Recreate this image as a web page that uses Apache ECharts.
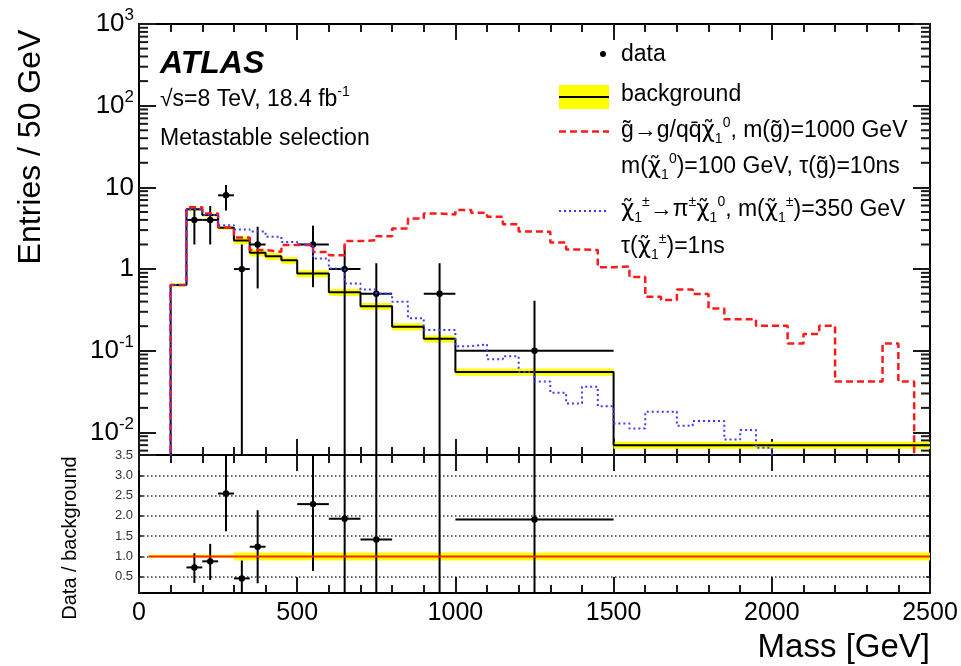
<!DOCTYPE html>
<html><head><meta charset="utf-8">
<script src="https://cdn.jsdelivr.net/npm/echarts@6/dist/echarts.min.js"></script>
<style>html,body{margin:0;padding:0;background:#fff}#c{width:961px;height:666px}</style>
</head><body><div id="c"></div>
<script>
const FONT = '"Liberation Sans", Arial, Helvetica, sans-serif';
const TICK = '#1a1a1a';
const MINOR = '#1a1a1a';

// ---------- data ----------
const bkgEdges  = [100,150,200,250,300,350,400,450,500,600,700,800,900,1000,1500,2500];
const bkgValues = [0.64,5.4,4.6,3.2,2.24,1.58,1.44,1.28,0.88,0.52,0.35,0.197,0.14,0.055,0.0070];
const bkgRelErr = [0.05,0.05,0.05,0.05,0.1,0.1,0.1,0.1,0.1,0.1,0.1,0.1,0.1,0.1,0.1];

const sigBinLow = [100,150,200,250,300,350,400,450,500,550,600,650,700,750,800,850,900,950,
  1000,1050,1100,1150,1200,1250,1300,1350,1400,1450,1500,1550,1600,1650,1700,1750,1800,1850,
  1900,1950,2000,2050,2100,2150,2200,2250,2300,2350,2400,2450];
const sigUpperEdge = 2500;
const gluinoValues = [0.64,5.7,4.8,3.24,2.44,1.71,1.63,1.97,1.97,1.62,1.48,2.2,2.26,2.53,3.15,4.17,4.8,4.67,
  5.27,4.89,4.37,3.55,2.89,2.87,2.12,1.74,1.71,1.05,1.08,0.80,0.458,0.417,0.564,0.494,0.33,0.244,
  0.244,0.202,0.202,0.123,0.16,0.202,0.042,0.042,0.042,0.123,0.042,0];
const charginoValues = [0.64,5.4,4.6,3.45,3.06,2.88,2.49,2.14,2.02,1.35,1.02,0.668,0.564,0.5,0.398,0.25,0.18,0.18,
  0.114,0.12,0.079,0.086,0.055,0.042,0.0306,0.0227,0.0364,0.021,0.0129,0.0112,0.0179,0.018,0.0121,0.0138,0.0138,0.0082,
  0.0107,0.0065,0,0,0,0,0,0,0,0,0,0];

const dataMass      = [175,225,275,325,375,550,650,750,950,1250];
const dataHalfWidth = [25,25,25,25,25,50,50,50,50,250];
const dataEntries   = [4,4,8,1,2,2,1,0.5,0.5,0.1];
const dataErrLow    = [2.0,2.0,5.2,0,0.58,0.6,0,0,0,0];
const dataErrHigh   = [5.9,5.9,10.7,2.0,3.3,3.4,1.95,1.18,1.18,0.41];

const ratioValues  = [0.73,0.88,2.55,0.46,1.24,2.29,1.93,1.42,3.6,1.91];
const ratioErrLow  = [0.35,0.42,1.62,0,0.34,0.64,0,0,0,0];
const ratioErrHigh = [1.08,1.31,3.49,0.9,2.14,3.6,4.5,4.5,4.5,4.5];
const ratioBandEdges = [30,300,2500];
const ratioBandErr   = [0.04,0.1];

const topYTickValues = [0.01,0.1,1,10,100,1000];
const topYTickLabels = ['{b|10}{s|-2}','{b|10}{s|-1}','{b|1}','{b|10}','{b|10}{s|2}','{b|10}{s|3}'];
const ratioTickValues = [0.5,1.0,1.5,2.0,2.5,3.0,3.5];
const ratioTickLabels = ['0.5','1.0','1.5','2.0','2.5','3.0','3.5'];

const Y_MIN = 0.0053, Y_MAX = 1000, FLOOR = 1e-4;

// ---------- builders ----------
function stepData(lows, upper, values) {
  const pts = [[lows[0], FLOOR]];
  for (let i = 0; i < lows.length; i++) pts.push([lows[i], values[i] > 0 ? values[i] : FLOOR]);
  const last = values[values.length - 1];
  pts.push([upper, last > 0 ? last : FLOOR]);
  return pts;
}
const bkgStep = [];
for (let i = 0; i < bkgValues.length; i++) bkgStep.push([bkgEdges[i], bkgValues[i]]);
bkgStep.unshift([bkgEdges[0], FLOOR]);
bkgStep.push([bkgEdges[bkgEdges.length - 1], bkgValues[bkgValues.length - 1]]);

const bkgBand = bkgValues.map((v, i) => [bkgEdges[i], bkgEdges[i + 1], v, bkgRelErr[i]]);
const ratioBand = ratioBandErr.map((e, i) => [ratioBandEdges[i], ratioBandEdges[i + 1], 1, e]);
const dataPts = dataMass.map((m, i) => [m, dataHalfWidth[i], dataEntries[i], dataErrLow[i] > 0 ? dataErrLow[i] : 1e-6, dataErrHigh[i]]);
const ratioPts = dataMass.map((m, i) => [m, dataHalfWidth[i], ratioValues[i], ratioErrLow[i], ratioErrHigh[i]]);

const logMinorTicks = [];
for (let d = -3; d <= 2; d++) for (let k = 2; k <= 9; k++) {
  const v = k * Math.pow(10, d);
  if (v >= Y_MIN && v <= Y_MAX) logMinorTicks.push([0, v]);
}

function bandRender(params, api) {
  const lo = api.value(0), hi = api.value(1), v = api.value(2), e = api.value(3);
  const p1 = api.coord([lo, v * (1 + e)]), p2 = api.coord([hi, v * (1 - e)]);
  return { type: 'rect', shape: { x: p1[0], y: p1[1], width: p2[0] - p1[0], height: p2[1] - p1[1] },
           style: { fill: '#ffff00' } };
}
function errRender(params, api) {
  const cs = params.coordSys;
  const top = cs.y, bot = cs.y + cs.height;
  const clamp = y => Math.min(Math.max(y, top), bot);
  const x = api.value(0), hw = api.value(1), y = api.value(2), lo = api.value(3), hi = api.value(4);
  const c = api.coord([x, y]);
  const pl = api.coord([x - hw, y]), pr = api.coord([x + hw, y]);
  const yHi = clamp(api.coord([x, hi])[1]);
  const yLo = clamp(api.coord([x, lo])[1]);
  const st = { stroke: '#000', lineWidth: 2 };
  const ch = [{ type: 'line', shape: { x1: c[0], y1: yHi, x2: c[0], y2: yLo }, style: st }];
  if (c[1] >= top && c[1] <= bot) {
    ch.push({ type: 'line', shape: { x1: pl[0], y1: c[1], x2: pr[0], y2: c[1] }, style: st });
    ch.push({ type: 'circle', shape: { cx: c[0], cy: c[1], r: 3.2 }, style: { fill: '#000' } });
  }
  return { type: 'group', children: ch };
}
function minorTickRender(params, api) {
  const cs = params.coordSys;
  const y = api.coord([0, api.value(1)])[1];
  const st = { stroke: MINOR, lineWidth: 2 };
  return { type: 'group', children: [
    { type: 'line', shape: { x1: cs.x, y1: y, x2: cs.x + 9, y2: y }, style: st },
    { type: 'line', shape: { x1: cs.x + cs.width - 9, y1: y, x2: cs.x + cs.width, y2: y }, style: st }
  ] };
}

function fmtLog(v) {
  for (let i = 0; i < topYTickValues.length; i++)
    if (Math.abs(v / topYTickValues[i] - 1) < 1e-6) return topYTickLabels[i];
  return '';
}
function fmtRatio(v) {
  for (let i = 0; i < ratioTickValues.length; i++)
    if (Math.abs(v - ratioTickValues[i]) < 1e-6) return ratioTickLabels[i];
  return '';
}

function frame() { return { show: true, onZero: false, lineStyle: { color: '#000', width: 2 } }; }
function mkX(gridIndex, position, showLabel) {
  return { type: 'value', gridIndex, position, min: 0, max: 2500, interval: 500,
    axisLine: frame(),
    axisTick: { show: true, inside: true, length: 16, lineStyle: { color: TICK, width: 2 } },
    minorTick: { show: true, splitNumber: 5, length: 8, lineStyle: { color: MINOR, width: 2 } },
    axisLabel: { show: showLabel, fontSize: 25, color: '#000', margin: 8, fontFamily: FONT,
      formatter: v => String(v) },
    splitLine: { show: false } };
}
function logY(position, showLabel) {
  return { type: 'log', logBase: 10, gridIndex: 0, position, min: Y_MIN, max: Y_MAX,
    axisLine: frame(),
    axisTick: { show: true, inside: true, length: 17, lineStyle: { color: TICK, width: 2 } },
    axisLabel: { show: showLabel, margin: 5, formatter: fmtLog, color: '#000',
      rich: { b: { fontSize: 26, fontFamily: FONT, color: '#000', lineHeight: 34 },
              s: { fontSize: 17, fontFamily: FONT, color: '#000', verticalAlign: 'top' } } },
    splitLine: { show: false } };
}
function ratioY(position, showLabel) {
  return { type: 'value', gridIndex: 1, position, min: 0.1, max: 3.5, splitNumber: 7,
    axisLine: frame(),
    axisTick: { show: true, inside: true, length: 4, lineStyle: { color: TICK, width: 1.5 } },
    axisLabel: { show: showLabel, fontSize: 13, color: '#333', margin: 6, fontFamily: FONT, formatter: fmtRatio },
    splitLine: { show: showLabel, lineStyle: { type: [1.5, 2.5], color: '#333', width: 1.5 } } };
}

const richLeg = {
  n: { fontSize: 23, fontFamily: FONT, fill: '#000', lineHeight: 30 },
  c: { fontSize: 23, fontFamily: '"DejaVu Sans"', fill: '#000', lineHeight: 30 },
  sup: { fontSize: 14, fontFamily: FONT, fill: '#000', verticalAlign: 'top' },
  sub: { fontSize: 14, fontFamily: FONT, fill: '#000', verticalAlign: 'bottom' }
};
function legText(x, y, text) {
  return { type: 'text', x, y, style: { text, rich: richLeg, fill: '#000', font: '23px ' + FONT, verticalAlign: 'middle' } };
}
const CHI = '{c|\u03C7\u0303}';

const option = {
  animation: false,
  backgroundColor: '#fff',
  grid: [
    { left: 139, top: 24, width: 791, height: 431 },
    { left: 139, top: 455, width: 791, height: 138 }
  ],
  xAxis: [ mkX(0, 'bottom', false), mkX(0, 'top', false), mkX(1, 'bottom', true), mkX(1, 'top', false) ],
  yAxis: [ logY('left', true), logY('right', false), ratioY('left', true), ratioY('right', false) ],
  series: [
    { type: 'custom', xAxisIndex: 0, yAxisIndex: 0, renderItem: bandRender, data: bkgBand, clip: true, encode: { x: [0, 1], y: 2 } },
    { type: 'line', xAxisIndex: 0, yAxisIndex: 0, step: 'end', data: bkgStep, symbol: 'none',
      lineStyle: { color: '#000', width: 2 }, clip: true },
    { type: 'line', xAxisIndex: 0, yAxisIndex: 0, step: 'end', data: stepData(sigBinLow, sigUpperEdge, gluinoValues), symbol: 'none',
      lineStyle: { color: '#ff1a1a', width: 2.5, type: [7, 4] }, clip: true },
    { type: 'line', xAxisIndex: 0, yAxisIndex: 0, step: 'end', data: stepData(sigBinLow, sigUpperEdge, charginoValues), symbol: 'none',
      lineStyle: { color: '#3b3bff', width: 2, type: [2, 3] }, clip: true },
    { type: 'custom', xAxisIndex: 0, yAxisIndex: 0, renderItem: minorTickRender, data: logMinorTicks, encode: { x: 0, y: 1 }, z: 10 },
    { type: 'custom', xAxisIndex: 0, yAxisIndex: 0, renderItem: errRender, data: dataPts, encode: { x: 0, y: 2 } },
    { type: 'custom', xAxisIndex: 2, yAxisIndex: 2, renderItem: bandRender, data: ratioBand, clip: true, encode: { x: [0, 1], y: 2 } },
    { type: 'line', xAxisIndex: 2, yAxisIndex: 2, data: [[ratioBandEdges[0], 1], [ratioBandEdges[ratioBandEdges.length - 1], 1]],
      symbol: 'none', lineStyle: { color: '#ff2200', width: 2 } },
    { type: 'custom', xAxisIndex: 2, yAxisIndex: 2, renderItem: errRender, data: ratioPts, encode: { x: 0, y: 2 } }
  ],
  graphic: [
    { type: 'text', x: 160, y: 64, style: { text: 'ATLAS', font: 'italic bold 32px ' + FONT, fill: '#000', verticalAlign: 'middle' } },
    legText(160, 100, '{n|\u221As=8 TeV, 18.4 fb}{sup|-1}'),
    legText(160, 139, 'Metastable selection'),
    { type: 'circle', shape: { cx: 603, cy: 54, r: 3 }, style: { fill: '#000' } },
    legText(621, 55, 'data'),
    { type: 'rect', shape: { x: 559, y: 85, width: 50, height: 24 }, style: { fill: '#ffff00' } },
    { type: 'line', shape: { x1: 559, y1: 97, x2: 609, y2: 97 }, style: { stroke: '#000', lineWidth: 2 } },
    legText(621, 95, 'background'),
    { type: 'line', shape: { x1: 559, y1: 131.5, x2: 609, y2: 131.5 }, style: { stroke: '#ff1a1a', lineWidth: 2.5, lineDash: [7, 4] } },
    legText(621, 131, '{n|g\u0303\u2192g/qq\u0304}' + CHI + '{sub|1}{sup|0}{n|, m(g\u0303)=1000 GeV}'),
    legText(621, 167, '{n|m(}' + CHI + '{sub|1}{sup|0}{n|)=100 GeV, \u03C4(g\u0303)=10ns}'),
    { type: 'line', shape: { x1: 559, y1: 211, x2: 609, y2: 211 }, style: { stroke: '#3b3bff', lineWidth: 2, lineDash: [2, 3] } },
    legText(621, 210, CHI + '{sub|1}{sup|\u00B1}{n|\u2192\u03C0}{sup|\u00B1}' + CHI + '{sub|1}{sup|0}{n|, m(}' + CHI + '{sub|1}{sup|\u00B1}{n|)=350 GeV}'),
    legText(621, 247, '{n|\u03C4(}' + CHI + '{sub|1}{sup|\u00B1}{n|)=1ns}'),
    { type: 'text', x: 31, y: 147, rotation: Math.PI / 2,
      style: { text: 'Entries / 50 GeV', font: '32px ' + FONT, fill: '#000', align: 'center', verticalAlign: 'middle' } },
    { type: 'text', x: 70, y: 538, rotation: Math.PI / 2,
      style: { text: 'Data / background', font: '20px ' + FONT, fill: '#000', align: 'center', verticalAlign: 'middle' } },
    { type: 'text', x: 930, y: 648,
      style: { text: 'Mass [GeV]', font: '33px ' + FONT, fill: '#000', align: 'right', verticalAlign: 'middle' } }
  ]
};

const chart = echarts.init(document.getElementById('c'), null, { renderer: 'canvas' });
chart.setOption(option);
</script>
</body></html>
